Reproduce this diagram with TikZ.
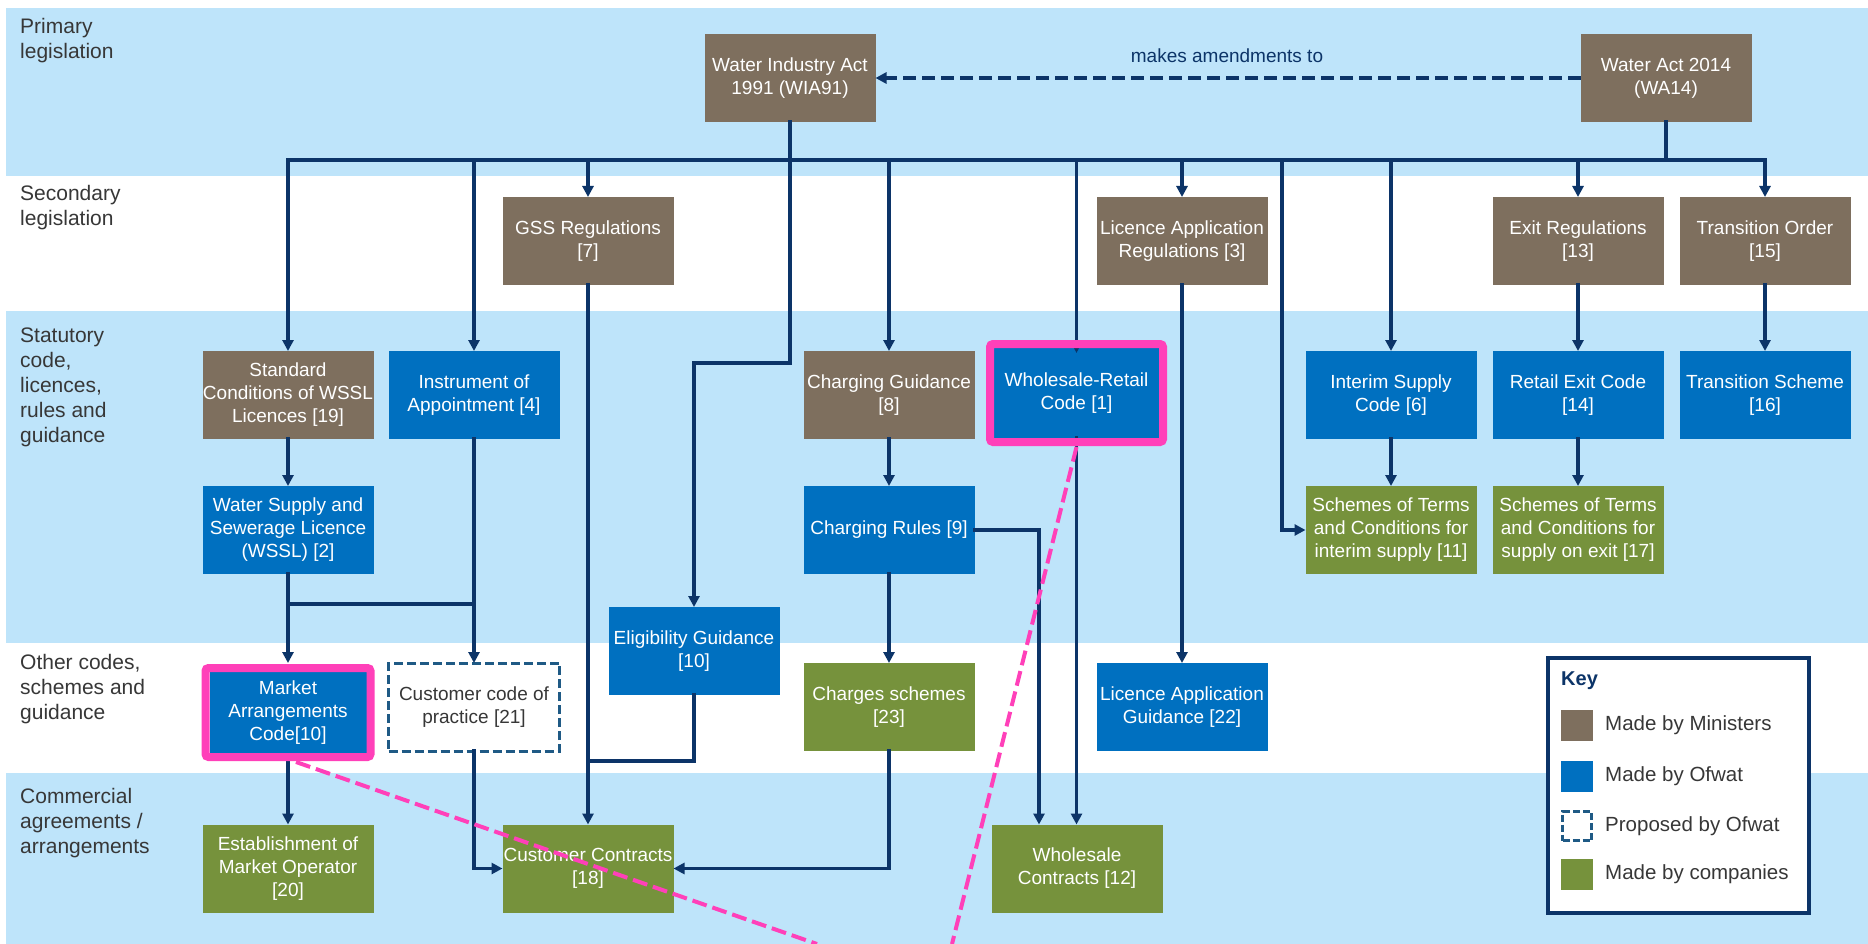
\documentclass[tikz,border=0pt]{standalone}
\usepackage{fontspec}
\setmainfont{Liberation Sans}
\usetikzlibrary{arrows.meta}
\definecolor{bandblue}{RGB}{190,228,250}
\definecolor{mbrown}{RGB}{126,111,94}
\definecolor{mblue}{RGB}{0,112,192}
\definecolor{mgreen}{RGB}{118,146,60}
\definecolor{navy}{RGB}{12,52,104}
\definecolor{hotpink}{RGB}{255,64,185}
\definecolor{dashblue}{RGB}{31,90,133}
\definecolor{labelgray}{RGB}{55,55,55}
\begin{document}
\begin{tikzpicture}[x=1pt,y=-1pt,
  box/.style={minimum width=171pt,minimum height=88pt,inner sep=0pt,outer sep=0pt,align=center,text=white,font=\fontsize{19}{23}\selectfont},
  brownbox/.style={box,fill=mbrown},
  bluebox/.style={box,fill=mblue},
  greenbox/.style={box,fill=mgreen},
  propbox/.style={box,fill=white,draw=dashblue,line width=3pt,dash pattern=on 9pt off 4pt,text=labelgray},
  conn/.style={draw=navy,line width=3.5pt,line cap=rect,line join=miter},
  arr/.style={conn,-{Triangle[width=11pt,length=11pt]}},
  dasharr/.style={draw=navy,line width=3.5pt,dash pattern=on 13pt off 6pt,-{Triangle[width=11pt,length=11pt]}},
  lab/.style={anchor=west,align=left,inner sep=0pt,text=labelgray,font=\fontsize{21}{25}\selectfont},
  keylab/.style={anchor=west,inner sep=0pt,text=labelgray,font=\fontsize{20.5}{24}\selectfont},
  swatch/.style={minimum width=32pt,minimum height=31pt,inner sep=0pt},
  pinkframe/.style={draw=hotpink,line width=8pt,rounded corners=3pt},
  pinkdash/.style={draw=hotpink,line width=4pt,dash pattern=on 15pt off 6pt}
]
\useasboundingbox (0,0) rectangle (1868,944);
\fill[white] (0,0) rectangle (1868,944);
% bands
\fill[bandblue] (6,8) rectangle (1868,176);
\fill[bandblue] (6,311) rectangle (1868,643);
\fill[bandblue] (6,773) rectangle (1868,944);

% row labels
\node[lab] (l1) at (20,41) {Primary\\legislation};
\node[lab] (l2) at (20,208) {Secondary\\legislation};
\node[lab] (l3) at (20,387) {Statutory\\code,\\licences,\\rules and\\guidance};
\node[lab] (l4) at (20,689) {Other codes,\\schemes and\\guidance};
\node[lab] (l5) at (20,823) {Commercial\\agreements /\\arrangements};

% nodes
\node[brownbox] (wia) at (790,78) {Water Industry Act\\1991 (WIA91)};
\node[brownbox] (wa) at (1666,78) {Water Act 2014\\(WA14)};
\node[brownbox] (gss) at (588,241) {GSS Regulations\\{[7]}};
\node[brownbox] (lar) at (1182,241) {Licence Application\\Regulations [3]};
\node[brownbox] (exit) at (1578,241) {Exit Regulations\\{[13]}};
\node[brownbox] (tord) at (1765,241) {Transition Order\\{[15]}};

\node[brownbox] (std) at (288,395) {Standard\\Conditions of WSSL\\Licences [19]};
\node[bluebox] (inst) at (474,395) {Instrument of\\Appointment [4]};
\node[brownbox] (cg) at (889,395) {Charging Guidance\\{[8]}};
\node[bluebox,minimum width=165pt,minimum height=90pt] (wrc) at (1076.5,393) {Wholesale-Retail\\Code [1]};
\node[bluebox] (isc) at (1391,395) {Interim Supply\\Code [6]};
\node[bluebox] (rec) at (1578,395) {Retail Exit Code\\{[14]}};
\node[bluebox] (tsch) at (1765,395) {Transition Scheme\\{[16]}};

\node[bluebox] (wssl) at (288,530) {Water Supply and\\Sewerage Licence\\(WSSL) [2]};
\node[bluebox] (cr) at (889,530) {Charging Rules [9]};
\node[greenbox] (sti) at (1391,530) {Schemes of Terms\\and Conditions for\\interim supply [11]};
\node[greenbox] (ste) at (1578,530) {Schemes of Terms\\and Conditions for\\supply on exit [17]};

\node[bluebox] (elig) at (694,651) {Eligibility Guidance\\{[10]}};
\node[bluebox,minimum width=157pt,minimum height=81pt] (mac) at (288,712.5) {Market\\Arrangements\\Code[10]};
\node[propbox] (ccop) at (474,707) {Customer code of\\practice [21]};
\node[greenbox] (chs) at (889,707) {Charges schemes\\{[23]}};
\node[bluebox] (lag) at (1182,707) {Licence Application\\Guidance [22]};

\node[greenbox] (emo) at (288,868.5) {Establishment of\\Market Operator\\{[20]}};
\node[greenbox] (cc) at (588,868.5) {Customer Contracts\\{[18]}};
\node[greenbox] (wc) at (1077,868.5) {Wholesale\\Contracts [12]};

% amendments
\draw[dasharr] (wa.west) -- (wia.east);
\node[inner sep=0pt,text=navy,font=\fontsize{19}{23}\selectfont] (amd) at (1227,56) {makes amendments to};

% bus
\coordinate (busy) at (0,160);
\draw[conn] (wia.south) -- (wia.south |- busy);
\draw[conn] (wa.south) -- (wa.south |- busy);
\draw[conn] (std.north |- busy) -- (tord.north |- busy);

\draw[arr] (std.north |- busy) -- (std.north);
\draw[arr] (inst.north |- busy) -- (inst.north);
\draw[arr] (gss.north |- busy) -- (gss.north);
\draw[arr] (cg.north |- busy) -- (cg.north);
\draw[arr] (wrc.north |- busy) -- ([yshift=-5pt]wrc.north);
\draw[arr] (lar.north |- busy) -- (lar.north);
\draw[arr] (isc.north |- busy) -- (isc.north);
\draw[arr] (exit.north |- busy) -- (exit.north);
\draw[arr] (tord.north |- busy) -- (tord.north);
\coordinate (b7) at (1282,160);
\draw[arr] (b7) |- (sti.west);

% WIA91 to eligibility
\coordinate (e1) at (790,363);
\draw[arr] (wia.south) -- (e1) -| (elig.north);

% statutory level
\draw[arr] (exit.south) -- (rec.north);
\draw[arr] (tord.south) -- (tsch.north);
\draw[arr] (isc.south) -- (sti.north);
\draw[arr] (rec.south) -- (ste.north);
\draw[arr] (std.south) -- (wssl.north);
\draw[arr] (cg.south) -- (cr.north);

% to other codes
\coordinate (j1) at (288,604);
\draw[conn] (j1) -- (j1 -| inst.south);
\draw[arr] (wssl.south) -- ([yshift=9pt]mac.north);
\draw[arr] (inst.south) -- (ccop.north);
\draw[arr] (cr.south) -- (chs.north);
\draw[arr] (lar.south) -- (lag.north);

% to commercial
\draw[arr] (gss.south) -- (cc.north);
\coordinate (e2) at (694,761);
\draw[conn] (elig.south) -- (e2) -- (e2 -| gss.south);
\draw[arr] (ccop.south) |- (cc.west);
\draw[arr] (chs.south) |- (cc.east);
\draw[arr] ([yshift=-9pt]mac.south) -- (emo.north);
\coordinate (crx) at (1039,530);
\draw[arr] (cr.east) -- (crx) -- (crx |- wc.north);
\draw[arr] (wrc.south) -- (wrc.south |- wc.north);

% key
\node[draw=navy,line width=3.5pt,fill=white,minimum width=261pt,minimum height=255pt,inner sep=0pt] (key) at (1678.5,785.5) {};
\node[anchor=west,inner sep=0pt,text=navy,font=\bfseries\fontsize{20}{24}\selectfont] (keyt) at (1561,681) {Key};
\node[swatch,fill=mbrown] (s1) at (1577,725) {};
\node[swatch,fill=mblue] (s2) at (1577,776.5) {};
\node[swatch,minimum width=29pt,minimum height=29pt,fill=white,draw=dashblue,line width=2.5pt,dash pattern=on 7pt off 3pt] (s3) at (1577,826) {};
\node[swatch,fill=mgreen] (s4) at (1577,874) {};
\node[keylab] (k1) at (1605,725) {Made by Ministers};
\node[keylab] (k2) at (1605,776.5) {Made by Ofwat};
\node[keylab] (k3) at (1605,826) {Proposed by Ofwat};
\node[keylab] (k4) at (1605,874) {Made by companies};

% pink highlights
\draw[pinkframe] ([xshift=-4pt,yshift=4pt]wrc.north west) rectangle ([xshift=4pt,yshift=-4pt]wrc.south east);
\draw[pinkframe] ([xshift=-4pt,yshift=4pt]mac.north west) rectangle ([xshift=4pt,yshift=-4pt]mac.south east);
\coordinate (pe1) at (817,944);
\coordinate (pe2) at (952,944);
\draw[pinkdash] ([xshift=8pt,yshift=-9pt]mac.south) -- (pe1);
\draw[pinkdash] ([yshift=-9pt]wrc.south) -- (pe2);
\end{tikzpicture}
\end{document}
